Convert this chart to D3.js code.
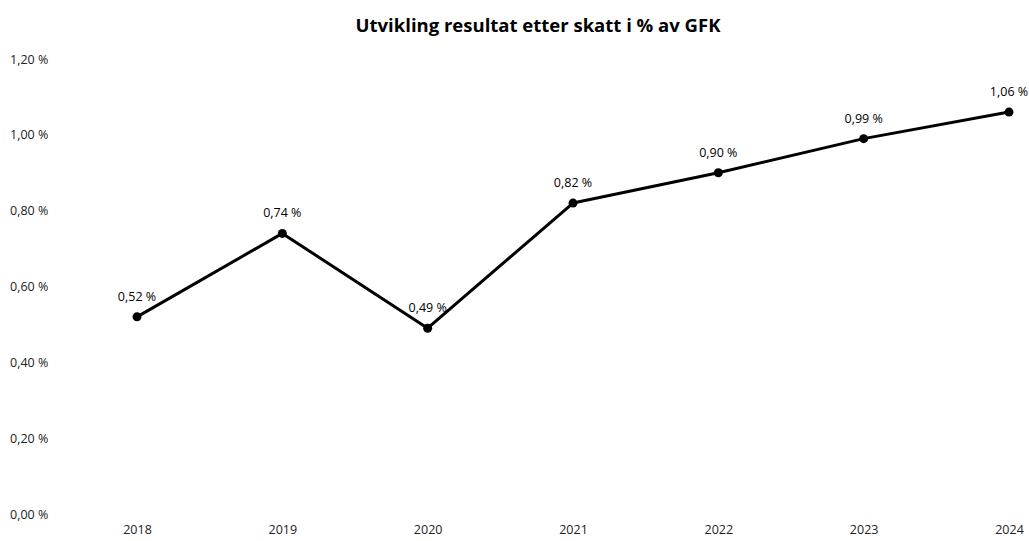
<!DOCTYPE html>
<html><head><meta charset="utf-8">
<script src="https://cdn.jsdelivr.net/npm/d3@7"></script>
<style>body{margin:0;background:#fff}</style>
</head><body><svg id="c" width="1029" height="541"></svg>
<script>
const years = ["2018","2019","2020","2021","2022","2023","2024"];
const values = [0.52,0.74,0.49,0.82,0.90,0.99,1.06];
const yTicks = [0,0.2,0.4,0.6,0.8,1.0,1.2];
const title = "Utvikling resultat etter skatt i % av GFK";

const fmt = v => v.toFixed(2).replace(".", ",") + " %";
const svg = d3.select("#c");
const font = "'Open Sans', Lato, sans-serif";

const x = d3.scalePoint().domain(years).range([137, 1009]);
const y = d3.scaleLinear().domain([0, 1.2]).range([514, 59]);

svg.append("text").attr("x", 538).attr("y", 32).attr("text-anchor","middle")
  .attr("font-family", font).attr("font-weight","bold").attr("font-size", 18.5).text(title);

const ya = svg.append("g").attr("transform","translate(10,0)")
  .call(d3.axisRight(y).tickValues(yTicks).tickSize(0).tickPadding(0).tickFormat(fmt));
ya.select(".domain").remove();
ya.selectAll("text").attr("font-family", font).attr("font-size", 12.5).attr("fill","#222");

const xa = svg.append("g").attr("transform","translate(0,525)")
  .call(d3.axisBottom(x).tickSize(0).tickPadding(0));
xa.select(".domain").remove();
xa.selectAll("text").attr("font-family", font).attr("font-size", 12.5).attr("fill","#222");

const line = d3.line().x((d,i)=>x(years[i])).y(d=>y(d));
svg.append("path").datum(values).attr("d", line).attr("fill","none")
  .attr("stroke","#000").attr("stroke-width",3).attr("stroke-linejoin","round");

svg.selectAll("circle.pt").data(values).join("circle").attr("class","pt")
  .attr("cx",(d,i)=>x(years[i])).attr("cy",d=>y(d)).attr("r",4.5).attr("fill","#000");

svg.selectAll("text.lbl").data(values).join("text").attr("class","lbl")
  .attr("x",(d,i)=>x(years[i])).attr("y",d=>y(d)-16).attr("text-anchor","middle")
  .attr("font-family", font).attr("font-size", 12.5).attr("fill","#000").text(fmt);
</script></body></html>
